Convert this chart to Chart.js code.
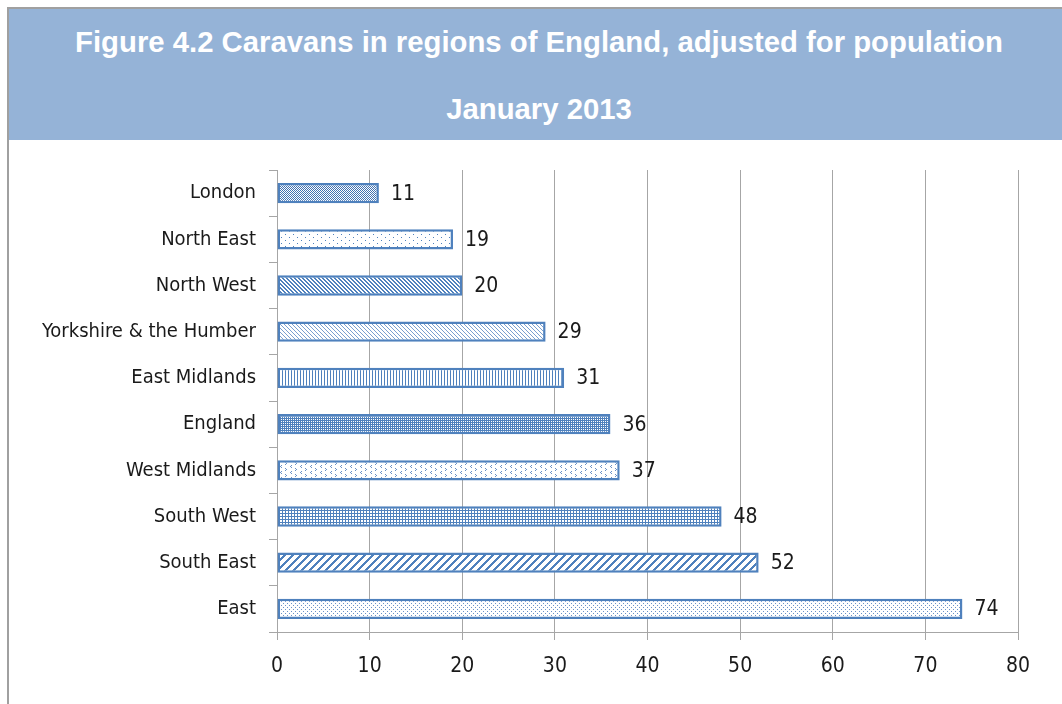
<!DOCTYPE html>
<html>
<head>
<meta charset="utf-8">
<script src="https://cdn.jsdelivr.net/npm/chart.js@4"></script>
<style>
  html, body { margin: 0; padding: 0; background: #fff; }
  body { width: 1062px; height: 704px; position: relative; overflow: hidden; }
  #frame {
    position: absolute; left: 7px; top: 7px; width: 1060px; height: 700px;
    border-left: 2px solid #a0a0a0; border-top: 2px solid #a0a0a0;
  }
  #header {
    position: absolute; left: 9px; top: 9px; width: 1053px; height: 131px;
    background: #95b3d7; color: #fff;
    font-family: "Liberation Sans", Arial, sans-serif; font-weight: bold; font-size: 29.3px;
    text-align: center;
  }
  #header div { position: absolute; left: 7px; right: 0; }
  #line1 { top: 16px; }
  #line2 { top: 83px; }
  #chartBox { position: absolute; left: 9px; top: 141px; width: 1053px; height: 563px; }
</style>
</head>
<body>
<div id="frame"></div>
<div id="header">
  <div id="line1">Figure 4.2 Caravans in regions of England, adjusted for population</div>
  <div id="line2">January 2013</div>
</div>
<div id="chartBox"><canvas id="caravanChart" width="1053" height="563"></canvas></div>

<script>
const regions = [
    "London",
    "North East",
    "North West",
    "Yorkshire & the Humber",
    "East Midlands",
    "England",
    "West Midlands",
    "South West",
    "South East",
    "East"
];

const caravans = [11, 19, 20, 29, 31, 36, 37, 48, 52, 74];

const axisTicks = [0, 10, 20, 30, 40, 50, 60, 70, 80];

// fill texture for each bar, in the same order as the regions
const fills = [
    "fineChecker",
    "sparseDots",
    "darkDownDiagonal",
    "lightDownDiagonal",
    "vertical",
    "denseDots",
    "chevron",
    "smallGrid",
    "wideUpDiagonal",
    "dots"
];

const BLUE = "#4f81bd";
const LABEL_FONT = "'Liberation Sans Narrow', 'DejaVu Sans Condensed', sans-serif";

const textures = {
    fineChecker:       { w: 2, h: 2, bg: "#ffffff", fg: "#4272b0", on: (x, y) => (x + y) % 2 === 0 },
    sparseDots:        { w: 8, h: 6, bg: "#ffffff", fg: BLUE, on: (x, y) => (x === 0 && y === 0) || (x === 4 && y === 3) },
    darkDownDiagonal:  { w: 4, h: 4, bg: "#ffffff", fg: BLUE, on: (x, y) => (x - y + 4) % 4 < 2 },
    lightDownDiagonal: { w: 4, h: 4, bg: "#ffffff", fg: "#7a9fcf", on: (x, y) => (x - y + 4) % 4 === 0 },
    vertical:          { w: 3, h: 1, bg: "#ffffff", fg: BLUE, on: (x) => x === 0 },
    denseDots:         { w: 2, h: 2, bg: "#ffffff", fg: BLUE, on: (x, y) => !(x === 0 && y === 0) },
    chevron:           { w: 10, h: 6, bg: "#ffffff", fg: "#6a92c7",
                         on: (x, y) => (x === 2 && y === 0) || (x === 1 && y === 1) || (x === 2 && y === 2) ||
                                       (x === 6 && y === 3) || (x === 7 && y === 4) || (x === 6 && y === 5) },
    smallGrid:         { w: 3, h: 3, bg: "#ffffff", fg: BLUE, on: (x, y) => x === 0 || y === 0 },
    wideUpDiagonal:    { w: 8, h: 8, bg: "#ffffff", fg: BLUE, on: (x, y) => (x + y) % 8 < 3 },
    dots:              { w: 4, h: 4, bg: "#ffffff", fg: "#6a92c7", on: (x, y) => (x === 0 && y === 0) || (x === 2 && y === 2) }
};

const ctx =
document.getElementById(
    "caravanChart"
).getContext("2d");

function makePattern(name){

    const t = textures[name];
    const tile = document.createElement("canvas");
    tile.width = t.w;
    tile.height = t.h;
    const tc = tile.getContext("2d");

    tc.fillStyle = t.bg;
    tc.fillRect(0, 0, t.w, t.h);
    tc.fillStyle = t.fg;

    for(let y = 0; y < t.h; y++){
        for(let x = 0; x < t.w; x++){
            if(t.on(x, y))
                tc.fillRect(x, y, 1, 1);
        }
    }

    return ctx.createPattern(tile, "repeat");

}

// numbers printed just past the end of each bar
const valueLabels = {

    id: "valueLabels",

    afterDatasetsDraw(chart){

        const c = chart.ctx;
        const meta = chart.getDatasetMeta(0);

        c.save();
        c.font = "21px " + LABEL_FONT;
        c.fillStyle = "#1a1a1a";
        c.textAlign = "left";
        c.textBaseline = "middle";

        meta.data.forEach((bar, i) => {
            c.fillText(String(caravans[i]), bar.x + 12, bar.y + 1);
        });

        c.restore();

    }

};

const chartArea = { left: 268, right: 1009, top: 29, bottom: 491 };

const caravanChart =
new Chart(ctx, {

    type: "bar",

    data: {

        labels: regions,

        datasets: [{

            data: caravans,

            backgroundColor: fills.map(makePattern),

            borderColor: BLUE,

            borderWidth: 2.5,

            borderSkipped: false,

            categoryPercentage: 1,

            barPercentage: 0.44

        }]
    },

    plugins: [valueLabels],

    options: {

        indexAxis: "y",

        responsive: false,

        animation: false,

        layout: {
            padding: { top: chartArea.top, right: 1053 - chartArea.right, left: 0, bottom: 0 }
        },

        plugins: {
            legend: { display: false },
            tooltip: { enabled: false }
        },

        scales: {

            x: {
                min: axisTicks[0],
                max: axisTicks[axisTicks.length - 1],
                afterBuildTicks: (scale) => {
                    scale.ticks = axisTicks.map(v => ({ value: v }));
                },
                afterFit: (scale) => {
                    scale.height = 563 - chartArea.bottom;
                },
                grid: {
                    color: "#a6a6a6",
                    lineWidth: 1,
                    tickLength: 8
                },
                border: { display: true, color: "#a6a6a6", width: 1 },
                ticks: {
                    color: "#1a1a1a",
                    padding: 14,
                    font: { family: LABEL_FONT, size: 21 }
                }
            },

            y: {
                afterFit: (scale) => {
                    scale.width = chartArea.left;
                },
                grid: {
                    drawOnChartArea: false,
                    color: "#a6a6a6",
                    tickLength: 8
                },
                border: { display: true, color: "#a6a6a6", width: 1 },
                ticks: {
                    color: "#1a1a1a",
                    padding: 13,
                    font: { family: LABEL_FONT, size: 20 }
                }
            }

        }

    }

});
</script>
</body>
</html>
